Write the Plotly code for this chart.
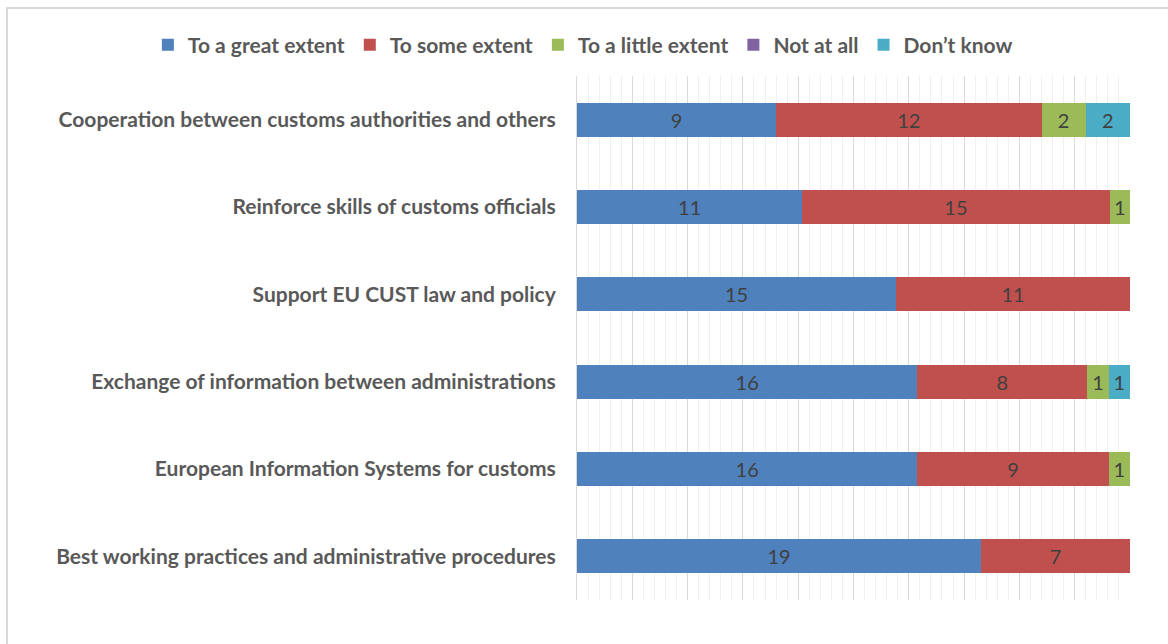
import plotly.graph_objects as go

categories = [
    "Cooperation between customs authorities and others",
    "Reinforce skills of customs officials",
    "Support EU CUST law and policy",
    "Exchange of information between administrations",
    "European Information Systems for customs",
    "Best working practices and administrative procedures",
]
great_extent = [9, 11, 15, 16, 16, 19]
some_extent = [12, 15, 11, 8, 9, 7]
little_extent = [2, 1, 0, 1, 1, 0]
not_at_all = [0, 0, 0, 0, 0, 0]
dont_know = [2, 0, 0, 1, 0, 0]

series = [
    ("To a great extent", great_extent, "#4F81BD"),
    ("To some extent", some_extent, "#C0504D"),
    ("To a little extent", little_extent, "#9BBB59"),
    ("Not at all", not_at_all, "#8064A2"),
    ("Don\u2019t know", dont_know, "#4BACC6"),
]

FONT = "Lato"
FS = 21
W, H = 1168, 644
fig = go.Figure()
for name, vals, color in series:
    fig.add_trace(go.Bar(
        y=categories, x=vals, name=name, orientation="h",
        marker=dict(color=color, line=dict(width=0)),
        text=[str(v) if v else "" for v in vals],
        textposition="inside", insidetextanchor="middle", textangle=0,
        textfont=dict(family=FONT, size=20, color="#404040"),
        hoverinfo="skip",
    ))

fig.update_layout(
    barmode="stack", barnorm="percent", bargap=0.61,
    width=W, height=H,
    margin=dict(l=577, r=38, t=76, b=44, autoexpand=False),
    paper_bgcolor="white", plot_bgcolor="white",
    uniformtext=dict(minsize=20, mode="show"),
    font=dict(family=FONT, size=FS, color="#595959"),
    legend=dict(orientation="h", x=-0.776, xanchor="left",
                y=1.0592, yanchor="middle",
                font=dict(family=FONT, size=FS, color="#595959", weight="bold"),
                traceorder="normal", itemwidth=30),
    xaxis=dict(range=[0, 100], showticklabels=False, showgrid=True, dtick=10,
               gridcolor="#D9D9D9", gridwidth=1, zeroline=False,
               minor=dict(dtick=2, showgrid=True, gridcolor="#F0F0F0", gridwidth=1),
               fixedrange=True),
    yaxis=dict(autorange="reversed", showline=True, linecolor="#D9D9D9", linewidth=1,
               ticks="", ticklabelstandoff=16,
               tickfont=dict(family=FONT, size=FS, color="#595959", weight="bold")),
    shapes=[dict(type="rect", xref="paper", yref="paper",
                 x0=-1.0307, x1=1.2, y0=-0.3, y1=1.1298,
                 line=dict(color="#D9D9D9", width=2), fillcolor="rgba(0,0,0,0)", layer="below")],
)

fig.write_html("out.html", config={"displayModeBar": False},
               post_script="document.body.style.margin='0';")
